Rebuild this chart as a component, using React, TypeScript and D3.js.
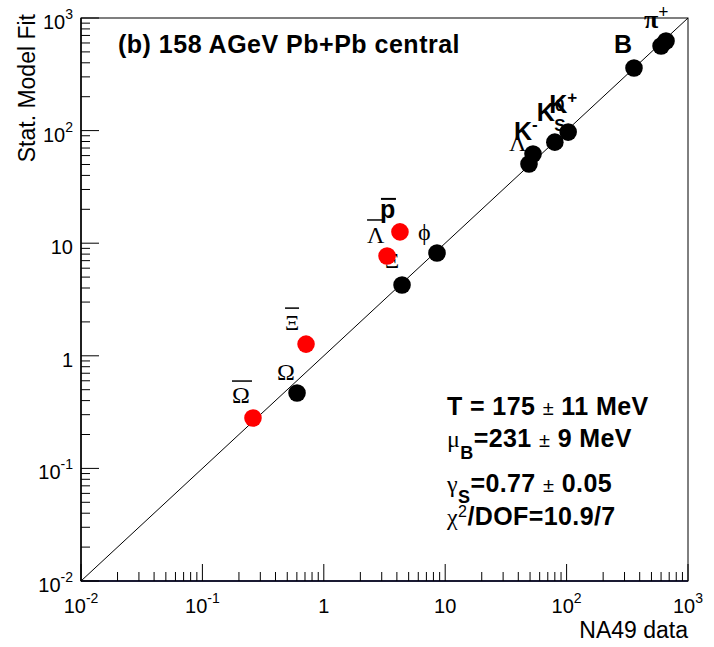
import React from "react";
import * as d3 from "d3";

// ---- data (NA49 measured yield vs statistical model fit) ----
const blackNames = ["π+", "π-", "B", "K+", "K0S", "K-", "Λ", "φ", "Ξ-", "Ω"];
const blackData = [659, 600, 359, 103, 80, 52.9, 49, 8.56, 4.41, 0.602];
const blackFit = [625, 564, 360, 97, 79, 62, 50.5, 8.19, 4.25, 0.468];
const redNames = ["p̄", "Λ̄", "Ξ̄", "Ω̄"];
const redData = [4.24, 3.32, 0.714, 0.261];
const redFit = [12.6, 7.7, 1.27, 0.28];
const majorTicks = [0.01, 0.1, 1, 10, 100, 1000];
const tickBase = ["10", "10", "1", "10", "10", "10"];
const tickExp = ["-2", "-1", "", "", "2", "3"];

const W = 714;
const H = 647;
const L = 81, R = 688, T = 18, B = 581;

export default function App() {
  const x = d3.scaleLog().domain([0.01, 1000]).range([L, R]);
  const y = d3.scaleLog().domain([0.01, 1000]).range([B, T]);
  const minors: number[] = [];
  for (let k = -2; k < 3; k++) for (let m = 2; m <= 9; m++) minors.push(m * Math.pow(10, k));

  const sans = "Liberation Sans, Arial, Helvetica, sans-serif";
  const serif = "Liberation Serif, Times New Roman, serif";

  const bp = (name: string) => {
    const i = blackNames.indexOf(name);
    return [x(blackData[i]), y(blackFit[i])];
  };
  const rp = (name: string) => {
    const i = redNames.indexOf(name);
    return [x(redData[i]), y(redFit[i])];
  };

  const [pipX, pipY] = bp("π+");
  const [bX, bY] = bp("B");
  const [kpX, kpY] = bp("K+");
  const [ksX, ksY] = bp("K0S");
  const [kmX, kmY] = bp("K-");
  const [laX, laY] = bp("Λ");
  const [phX, phY] = bp("φ");
  const [xiX, xiY] = bp("Ξ-");
  const [omX, omY] = bp("Ω");
  const [pbX, pbY] = rp("p̄");
  const [lbX, lbY] = rp("Λ̄");
  const [xbX, xbY] = rp("Ξ̄");
  const [obX, obY] = rp("Ω̄");

  const lab = 22;
  const kf = 25;

  return (
    <svg width={W} height={H} style={{ display: "block", position: "absolute", left: 0, top: 0 }}>
      <rect x={0} y={0} width={W} height={H} fill="#fff" />
      {/* frame */}
      <rect x={L} y={T} width={R - L} height={B - T} fill="none" stroke="#000" strokeWidth={1} />
      <line x1={L} x2={R} y1={B} y2={B} stroke="#1a1a33" strokeWidth={2} />
      <line x1={L} x2={L} y1={T} y2={B} stroke="#000" strokeWidth={1.5} />
      {/* diagonal */}
      <line x1={x(0.01)} y1={y(0.01)} x2={x(1000)} y2={y(1000)} stroke="#000" strokeWidth={1} />
      {/* ticks */}
      {majorTicks.map((t) => (
        <g key={"mj" + t}>
          <line x1={x(t)} x2={x(t)} y1={B} y2={B - 17} stroke="#000" strokeWidth={1} />
          <line x1={L} x2={L + 18} y1={y(t)} y2={y(t)} stroke="#000" strokeWidth={1} />
        </g>
      ))}
      {minors.map((t) => (
        <g key={"mn" + t}>
          <line x1={x(t)} x2={x(t)} y1={B} y2={B - 9} stroke="#000" strokeWidth={1} />
          <line x1={L} x2={L + 9} y1={y(t)} y2={y(t)} stroke="#000" strokeWidth={1} />
        </g>
      ))}
      {/* tick labels */}
      {majorTicks.map((t, i) => (
        <text key={"xl" + t} x={x(t)} y={613} fontFamily={sans} fontSize={20} textAnchor="middle">
          {tickBase[i]}
          {tickExp[i] && (
            <tspan fontSize={14} dy={-10}>
              {tickExp[i]}
            </tspan>
          )}
        </text>
      ))}
      {majorTicks.map((t, i) => (
        <text key={"yl" + t} x={73} y={y(t) + 11} fontFamily={sans} fontSize={20} textAnchor="end">
          {tickBase[i]}
          {tickExp[i] && (
            <tspan fontSize={14} dy={-10}>
              {tickExp[i]}
            </tspan>
          )}
        </text>
      ))}
      {/* axis titles */}
      <text x={688} y={638} fontFamily={sans} fontSize={23} textAnchor="end">NA49 data</text>
      <text transform="translate(35,14) rotate(-90)" fontFamily={sans} fontSize={23} textAnchor="end">
        Stat. Model Fit
      </text>
      {/* header */}
      <text x={118} y={53} fontFamily={sans} fontSize={25} fontWeight="bold" letterSpacing={0.5}>
        (b) 158 AGeV Pb+Pb central
      </text>

      {/* particle labels */}
      <text x={pipX - 22} y={pipY - 13} fontFamily={serif} fontSize={26} fontWeight="bold">
        π<tspan fontSize={18} dy={-10}>+</tspan>
      </text>
      <text x={bX - 20} y={bY - 15} fontFamily={sans} fontSize={kf} fontWeight="bold">B</text>
      <text x={kpX - 19} y={kpY - 19} fontFamily={sans} fontSize={kf} fontWeight="bold">
        K<tspan fontSize={17} dy={-10}>+</tspan>
      </text>
      <text x={ksX - 18} y={ksY - 21} fontFamily={sans} fontSize={kf} fontWeight="bold">
        K<tspan fontSize={17} dy={-10}>0</tspan>
        <tspan fontSize={17} dx={-10} dy={20}>S</tspan>
      </text>
      <text x={kmX - 19} y={kmY - 14} fontFamily={sans} fontSize={kf} fontWeight="bold">
        K<tspan fontSize={17} dy={-10}>-</tspan>
      </text>
      <text x={laX - 20} y={laY - 13} fontFamily={serif} fontSize={24}>Λ</text>
      <text x={phX - 19} y={phY - 13} fontFamily={serif} fontSize={24}>ϕ</text>
      <text x={xiX - 17} y={xiY - 17} fontFamily={serif} fontSize={lab}>Ξ</text>
      <text x={omX - 20} y={omY - 13} fontFamily={serif} fontSize={24}>Ω</text>

      <text x={pbX - 20} y={pbY - 14} fontFamily={sans} fontSize={kf} fontWeight="bold">p</text>
      <line x1={pbX - 19} x2={pbX - 4} y1={pbY - 33} y2={pbY - 33} stroke="#000" strokeWidth={2} />
      <text x={lbX - 20} y={lbY - 13} fontFamily={serif} fontSize={24}>Λ</text>
      <line x1={lbX - 20} x2={lbX - 4} y1={lbY - 36} y2={lbY - 36} stroke="#000" strokeWidth={1.5} />
      <text x={xbX - 21} y={xbY - 14} fontFamily={serif} fontSize={lab}>Ξ</text>
      <line x1={xbX - 21} x2={xbX - 7} y1={xbY - 36} y2={xbY - 36} stroke="#000" strokeWidth={1.5} />
      <text x={obX - 21} y={obY - 15} fontFamily={serif} fontSize={24}>Ω</text>
      <line x1={obX - 21} x2={obX - 1} y1={obY - 37} y2={obY - 37} stroke="#000" strokeWidth={1.5} />

      {/* markers */}
      {blackData.map((d, i) => (
        <circle key={"b" + i} cx={x(d)} cy={y(blackFit[i])} r={8.8} fill="#000" />
      ))}
      {redData.map((d, i) => (
        <circle key={"r" + i} cx={x(d)} cy={y(redFit[i])} r={8.8} fill="#ff0000" />
      ))}

      {/* fit parameters */}
      <g fontFamily={sans} fontSize={25} fontWeight="bold" letterSpacing={0.4}>
        <text x={447} y={415}>
          T = 175 <tspan fontWeight="normal" fontSize={20}>±</tspan> 11 MeV
        </text>
        <text x={447} y={447}>
          <tspan fontFamily={serif} fontWeight="normal" fontSize={24}>μ</tspan>
          <tspan fontSize={18} dy={12}>B</tspan>
          <tspan dy={-12}>=231 </tspan>
          <tspan fontWeight="normal" fontSize={20}>±</tspan> 9 MeV
        </text>
        <text x={447} y={492}>
          <tspan fontFamily={serif} fontWeight="normal" fontSize={24}>γ</tspan>
          <tspan fontSize={18} dy={11}>S</tspan>
          <tspan dy={-11}>=0.77 </tspan>
          <tspan fontWeight="normal" fontSize={20}>±</tspan> 0.05
        </text>
        <text x={447} y={525}>
          <tspan fontFamily={serif} fontWeight="normal" fontSize={24}>χ</tspan>
          <tspan fontWeight="normal" fontSize={16} dy={-8}>2</tspan>
          <tspan dy={8}>/DOF=10.9/7</tspan>
        </text>
      </g>
    </svg>
  );
}
